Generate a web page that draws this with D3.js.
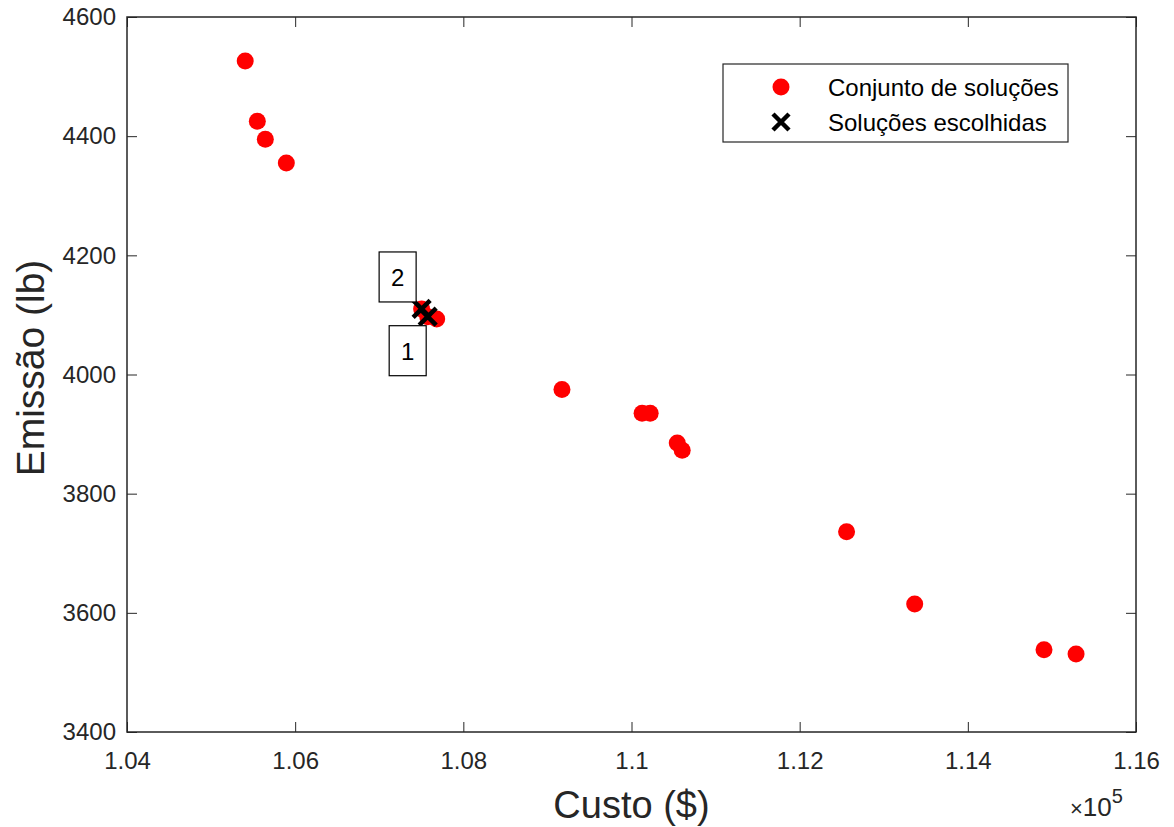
<!DOCTYPE html>
<html>
<head>
<meta charset="utf-8">
<script src="https://cdn.jsdelivr.net/npm/d3@7"></script>
<style>
  body { margin: 0; background: #fff; }
  svg text { font-family: "Liberation Sans", Arial, Helvetica, sans-serif; }
</style>
</head>
<body>
<div id="chart"></div>
<script>
// custo (x 1e5) and emissao (lb) for all solutions
var custo = [1.05406, 1.05550, 1.05645, 1.05895, 1.07504, 1.07576, 1.07683,
             1.09173, 1.10126, 1.10222, 1.10544, 1.10603, 1.12558, 1.13368, 1.14906, 1.15287];
var emissao = [4526, 4425, 4395, 4355, 4110, 4097, 4093,
               3975, 3935, 3935, 3885, 3873, 3736, 3615, 3538, 3531];

// chosen solutions
var escolhidasCusto = [1.07576, 1.07504];
var escolhidasEmissao = [4097, 4110];
var escolhidasRotulo = ["1", "2"];

var xTicks = [1.04, 1.06, 1.08, 1.1, 1.12, 1.14, 1.16];
var yTicks = [3400, 3600, 3800, 4000, 4200, 4400, 4600];
var legendLabels = ["Conjunto de soluções", "Soluções escolhidas"];

var width = 1174, height = 827;
var margin = { top: 17, right: 38, bottom: 95, left: 127 };
var axisColor = "#262626";
var tickFont = 24;

var svg = d3.select("#chart")
    .append("svg")
    .attr("width", width)
    .attr("height", height);

var x = d3.scaleLinear()
    .domain([1.04, 1.16])
    .range([margin.left, width - margin.right]);
var y = d3.scaleLinear()
    .domain([3400, 4600])
    .range([height - margin.bottom, margin.top]);

var fmtX = function (d) { return d3.format("")(+d.toFixed(2)); };

// bottom and left axes with inward ticks
svg.append("g")
    .attr("transform", "translate(0," + y(3400) + ")")
    .call(d3.axisBottom(x).tickValues(xTicks).tickSize(-10).tickPadding(20).tickFormat(fmtX))
    .call(g => g.select(".domain").remove())
    .call(g => g.selectAll("line").attr("stroke", axisColor))
    .call(g => g.selectAll("text").attr("fill", axisColor).attr("font-size", tickFont));

svg.append("g")
    .attr("transform", "translate(" + x(1.04) + ",0)")
    .call(d3.axisLeft(y).tickValues(yTicks).tickSize(-10).tickPadding(11).tickFormat(d3.format("d")))
    .call(g => g.select(".domain").remove())
    .call(g => g.selectAll("line").attr("stroke", axisColor))
    .call(g => g.selectAll("text").attr("fill", axisColor).attr("font-size", tickFont));

// top and right ticks (box)
svg.append("g")
    .attr("transform", "translate(0," + y(4600) + ")")
    .call(d3.axisTop(x).tickValues(xTicks).tickSize(-10).tickFormat(""))
    .call(g => g.select(".domain").remove())
    .call(g => g.selectAll("line").attr("stroke", axisColor));
svg.append("g")
    .attr("transform", "translate(" + x(1.16) + ",0)")
    .call(d3.axisRight(y).tickValues(yTicks).tickSize(-10).tickFormat(""))
    .call(g => g.select(".domain").remove())
    .call(g => g.selectAll("line").attr("stroke", axisColor));

svg.append("rect")
    .attr("x", x(1.04))
    .attr("y", y(4600))
    .attr("width", x(1.16) - x(1.04))
    .attr("height", y(3400) - y(4600))
    .attr("fill", "none")
    .attr("stroke", axisColor)
    .attr("stroke-width", 1.5);

// axis labels
svg.append("text")
    .attr("x", (x(1.04) + x(1.16)) / 2)
    .attr("y", 818)
    .attr("text-anchor", "middle")
    .attr("font-size", 38)
    .attr("fill", axisColor)
    .text("Custo ($)");

svg.append("text")
    .attr("transform", "translate(44,368) rotate(-90)")
    .attr("text-anchor", "middle")
    .attr("font-size", 39)
    .attr("fill", axisColor)
    .text("Emissão (lb)");

var expo = svg.append("text")
    .attr("x", 1070)
    .attr("y", 816)
    .attr("font-size", 26)
    .attr("fill", axisColor);
expo.append("tspan").attr("font-size", 22).text("×");
expo.append("tspan").text("10");
expo.append("tspan").attr("dy", -13).attr("font-size", 20).text("5");

// solutions
var pts = custo.map((c, i) => ({ c: c, e: emissao[i] }));
svg.append("g")
    .selectAll("circle")
    .data(pts)
    .join("circle")
    .attr("cx", d => x(d.c))
    .attr("cy", d => y(d.e))
    .attr("r", 8.5)
    .attr("fill", "#ff0000");

// chosen solutions as crosses
var chosen = escolhidasCusto.map((c, i) => ({ c: c, e: escolhidasEmissao[i], label: escolhidasRotulo[i] }));
function drawX(g, cx, cy, s) {
    g.append("path")
        .attr("d", "M" + (cx - s) + "," + (cy - s) + "L" + (cx + s) + "," + (cy + s) +
                   "M" + (cx - s) + "," + (cy + s) + "L" + (cx + s) + "," + (cy - s))
        .attr("stroke", "#000")
        .attr("stroke-width", 4.5);
}
var cg = svg.append("g");
chosen.forEach(d => drawX(cg, x(d.c), y(d.e), 8.5));

// text boxes with labels
var boxOffsets = { "1": [-20, 34], "2": [-24, -32] };
chosen.forEach(d => {
    var off = boxOffsets[d.label];
    var bx = x(d.c) + off[0], by = y(d.e) + off[1];
    svg.append("rect")
        .attr("x", bx - 18.5)
        .attr("y", by - 25)
        .attr("width", 37)
        .attr("height", 50)
        .attr("fill", "#fff")
        .attr("stroke", "#000")
        .attr("stroke-width", 1.2);
    svg.append("text")
        .attr("x", bx)
        .attr("y", by + 9)
        .attr("text-anchor", "middle")
        .attr("font-size", 24)
        .attr("fill", "#000")
        .text(d.label);
});

// legend
var lg = svg.append("g").attr("transform", "translate(723,64)");
lg.append("rect")
    .attr("width", 345)
    .attr("height", 78)
    .attr("fill", "#fff")
    .attr("stroke", axisColor)
    .attr("stroke-width", 1.2);
lg.append("circle").attr("cx", 58).attr("cy", 23).attr("r", 8.5).attr("fill", "#ff0000");
drawX(lg, 58, 58, 8);
legendLabels.forEach((t, i) => {
    lg.append("text")
        .attr("x", 105)
        .attr("y", 32 + i * 35)
        .attr("font-size", 24)
        .attr("fill", "#000")
        .text(t);
});
</script>
</body>
</html>
